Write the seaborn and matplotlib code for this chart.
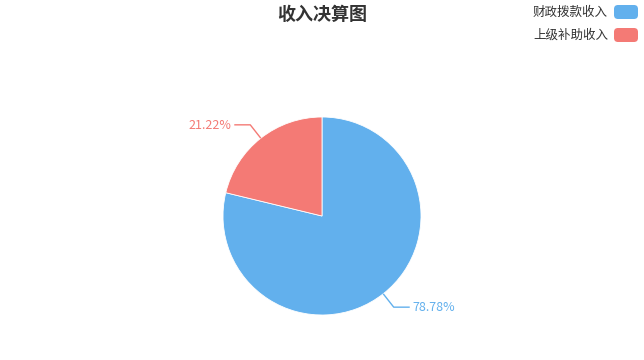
import numpy as np
import matplotlib
matplotlib.use("Agg")
import matplotlib.pyplot as plt
from matplotlib.patches import FancyBboxPatch
from matplotlib.transforms import IdentityTransform
import seaborn as sns

# ---- data ----
categories = ["财政拨款收入", "上级补助收入"]
values = [78.78, 21.22]
label_texts = ["78.78%", "21.22%"]
title = "收入决算图"

sns.set_theme(style="white")
plt.rcParams['font.family'] = ['Noto Sans CJK SC', 'DejaVu Sans']
colors = sns.color_palette(["#62b0ed", "#f47a75"])

W, H = 644, 360
fig = plt.figure(figsize=(W / 100, H / 100), dpi=100)
ax = fig.add_axes([0, 0, 1, 1])

cx, cy, R = 322, H - 216, 99
wedges, _ = ax.pie(values, colors=colors, startangle=90, counterclock=False,
                   center=(cx, cy), radius=R, frame=True,
                   wedgeprops=dict(edgecolor="white", linewidth=0.6))
ax.set_xlim(0, W)
ax.set_ylim(0, H)
ax.set_aspect("equal")
ax.axis("off")

len1, len2 = 17, 16
for w, txt, col in zip(wedges, label_texts, colors):
    mid = np.deg2rad((w.theta1 + w.theta2) / 2)
    x0, y0 = cx + R * np.cos(mid), cy + R * np.sin(mid)
    x1, y1 = cx + (R + len1) * np.cos(mid), cy + (R + len1) * np.sin(mid)
    sgn = 1 if np.cos(mid) >= 0 else -1
    x2 = x1 + sgn * len2
    ax.plot([x0, x1, x2], [y0, y1, y1], color=col, lw=1, solid_capstyle="butt")
    ax.text(x2 + sgn * 3, y1 - 0.5, txt, color=col, fontsize=9,
            ha="left" if sgn > 0 else "right", va="center")

fig.text(322 / W, 1 - 14 / H, title, ha="center", va="center",
         fontsize=13, fontweight="bold", color="#333333")

for i, (cat, col) in enumerate(zip(categories, colors)):
    yc = 12 + i * 23
    fig.text(608 / W, 1 - yc / H, cat, ha="right", va="center",
             fontsize=9, color="#333333")
    box = FancyBboxPatch((614, H - (yc + 7)), 24, 14,
                         boxstyle="round,pad=0,rounding_size=4",
                         transform=IdentityTransform(), facecolor=col,
                         edgecolor="none")
    fig.patches.append(box)

fig.savefig("out.png", dpi=100)
